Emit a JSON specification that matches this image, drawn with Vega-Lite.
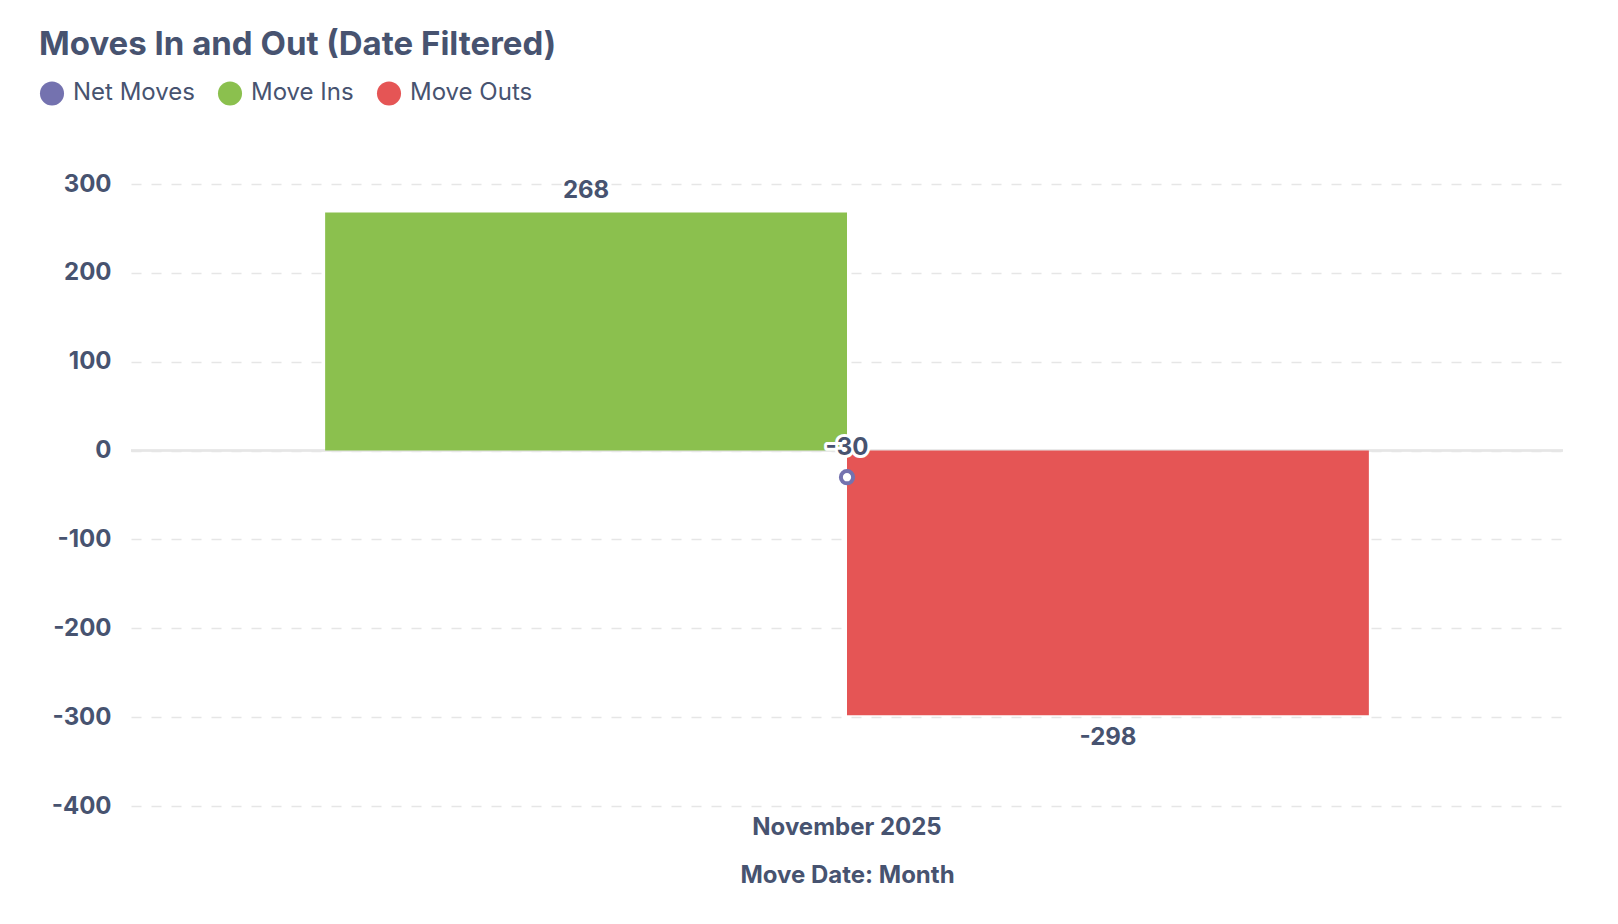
{
  "$schema": "https://vega.github.io/schema/vega-lite/v6.json",
  "autosize": {"type": "none"},
  "width": 1432,
  "height": 622,
  "padding": {"left": 131, "top": 184, "right": 55, "bottom": 118},
  "background": "#ffffff",
  "config": {
    "font": "Inter",
    "view": {"stroke": null},
    "axis": {"labelColor": "#475370", "titleColor": "#475370", "labelFont": "Inter", "titleFont": "Inter"}
  },
  "title": {
    "text": "Moves In and Out (Date Filtered)",
    "anchor": "start",
    "frame": "group",
    "dx": -92,
    "offset": 18,
    "font": "Inter",
    "fontSize": 33,
    "fontWeight": 700,
    "color": "#475370"
  },
  "data": {
    "values": [
      {"month": "November 2025", "series": "Net Moves", "value": -30},
      {"month": "November 2025", "series": "Move Ins", "value": 268},
      {"month": "November 2025", "series": "Move Outs", "value": -298}
    ]
  },
  "encoding": {
    "x": {
      "field": "month",
      "type": "nominal",
      "title": "Move Date: Month",
      "scale": {"paddingInner": 0, "paddingOuter": 0.186},
      "axis": {
        "labelAngle": 0,
        "labelLimit": 0,
        "ticks": false,
        "domain": false,
        "labelFontSize": 24,
        "labelFontWeight": 700,
        "labelPadding": 9,
        "titleFontSize": 24,
        "titleFontWeight": 700,
        "titlePadding": 24
      }
    },
    "y": {
      "field": "value",
      "type": "quantitative",
      "title": null,
      "scale": {"domain": [-400, 300], "nice": false, "zero": true},
      "axis": {
        "values": [-400, -300, -200, -100, 0, 100, 200, 300],
        "labelExpr": "toString(datum.value)",
        "ticks": false,
        "domain": false,
        "labelFontSize": 24,
        "labelFontWeight": 700,
        "labelPadding": 20,
        "gridColor": "#E6E6E6",
        "gridDash": [10, 10],
        "gridWidth": 1.5
      }
    }
  },
  "layer": [
    {
      "mark": {"type": "rule", "color": "#E6E6E6", "strokeWidth": 2},
      "encoding": {"y": {"datum": 0}, "x": {"value": 0}, "x2": {"value": "width"}}
    },
    {
      "transform": [{"filter": "datum.series !== 'Net Moves'"}],
      "mark": {"type": "bar"},
      "encoding": {
        "xOffset": {"field": "series", "type": "nominal", "scale": {"domain": ["Move Ins", "Move Outs"], "paddingInner": 0, "paddingOuter": 0}},
        "color": {
          "field": "series",
          "type": "nominal",
          "scale": {"domain": ["Net Moves", "Move Ins", "Move Outs"], "range": ["#7472AF", "#8BC04E", "#E55555"]},
          "legend": {
            "title": null,
            "orient": "none",
            "direction": "horizontal",
            "legendX": -92,
            "legendY": -104,
            "symbolType": "circle",
            "symbolSize": 580,
            "symbolOpacity": 1,
            "labelFontSize": 24,
            "labelFont": "Inter",
            "labelColor": "#475370",
            "labelOffset": 8,
            "columnPadding": 22
          }
        }
      }
    },
    {
      "transform": [{"filter": "datum.series === 'Move Ins'"}],
      "mark": {"type": "text", "fontSize": 24, "fontWeight": 700, "color": "#475370", "baseline": "middle", "dy": -21},
      "encoding": {
        "xOffset": {"field": "series", "type": "nominal"},
        "text": {"field": "value", "type": "nominal"}
      }
    },
    {
      "transform": [{"filter": "datum.series === 'Move Outs'"}],
      "mark": {"type": "text", "fontSize": 24, "fontWeight": 700, "color": "#475370", "baseline": "middle", "dy": 23},
      "encoding": {
        "xOffset": {"field": "series", "type": "nominal"},
        "text": {"field": "value", "type": "nominal"}
      }
    },
    {
      "transform": [{"filter": "datum.series === 'Net Moves'"}],
      "mark": {"type": "point", "shape": "circle", "filled": true, "fill": "#ffffff", "stroke": "#7472AF", "strokeWidth": 4, "size": 150, "opacity": 1}
    },
    {
      "transform": [{"filter": "datum.series === 'Net Moves'"}],
      "mark": {"type": "text", "fontSize": 24, "fontWeight": 700, "fill": "#ffffff", "stroke": "#ffffff", "strokeWidth": 6, "strokeJoin": "round", "baseline": "middle", "dy": -29},
      "encoding": {"text": {"field": "value", "type": "nominal"}}
    },
    {
      "transform": [{"filter": "datum.series === 'Net Moves'"}],
      "mark": {"type": "text", "fontSize": 24, "fontWeight": 700, "color": "#475370", "baseline": "middle", "dy": -29},
      "encoding": {"text": {"field": "value", "type": "nominal"}}
    }
  ]
}
